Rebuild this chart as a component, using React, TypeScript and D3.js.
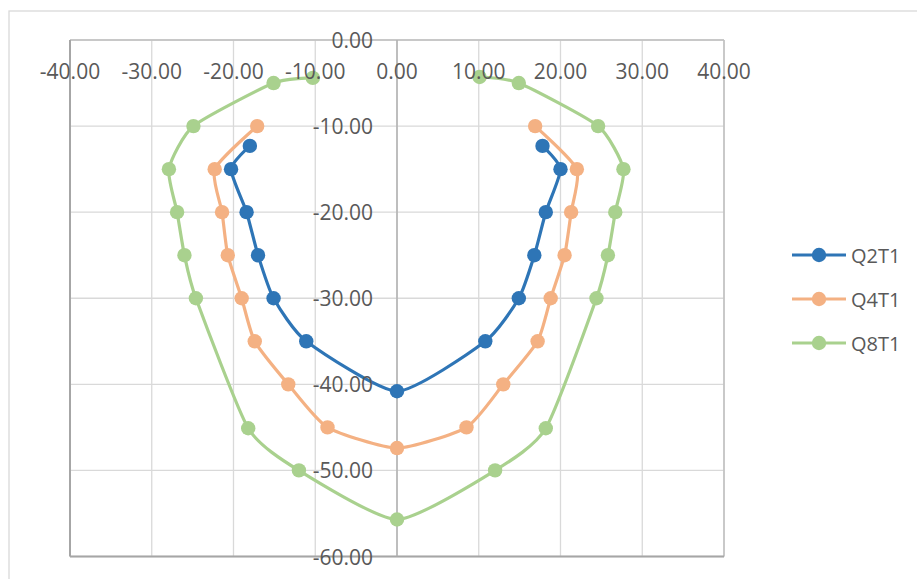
import React from "react";
import * as d3 from "d3";

// Series data: horizontal offset vs. depth (negative downward)
const q2t1X = [-18.0, -20.3, -18.4, -17.0, -15.1, -11.1, 0, 10.8, 14.9, 16.8, 18.2, 20.0, 17.8];
const q2t1Y = [-12.3, -15, -20, -25, -30, -35, -40.8, -35, -30, -25, -20, -15, -12.3];

const q4t1X = [-17.1, -22.3, -21.4, -20.7, -19.0, -17.4, -13.3, -8.5, 0, 8.5, 13.0, 17.2, 18.8, 20.5, 21.3, 22.0, 16.9];
const q4t1Y = [-10, -15, -20, -25, -30, -35, -40, -45, -47.4, -45, -40, -35, -30, -25, -20, -15, -10];

const q8t1X = [-10.3, -15.1, -24.9, -27.9, -26.9, -26.0, -24.6, -18.2, -12.0, 0, 12.0, 18.2, 24.4, 25.8, 26.7, 27.7, 24.6, 14.9, 10.1];
const q8t1Y = [-4.4, -5, -10, -15, -20, -25, -30, -45.1, -50, -55.7, -50, -45.1, -30, -25, -20, -15, -10, -5, -4.3];

const seriesNames = ["Q2T1", "Q4T1", "Q8T1"];
const seriesColors = ["#2e75b6", "#f4b183", "#a9d18e"];

const xTicks = [-40, -30, -20, -10, 0, 10, 20, 30, 40];
const yTicks = [0, -10, -20, -30, -40, -50, -60];

const W = 917;
const H = 579;
const FONT = "'Open Sans', 'Liberation Sans', sans-serif";
const TEXT = "#595959";

// two decimals with a plain hyphen for negatives
const fmt = (v: number) => (v < 0 ? "-" : "") + Math.abs(v).toFixed(2);

export default function App() {
  const x = d3.scaleLinear().domain([-40, 40]).range([70, 724]);
  const y = d3.scaleLinear().domain([0, -60]).range([40, 556.5]);

  const series = [
    { name: seriesNames[0], color: seriesColors[0], xs: q2t1X, ys: q2t1Y },
    { name: seriesNames[1], color: seriesColors[1], xs: q4t1X, ys: q4t1Y },
    { name: seriesNames[2], color: seriesColors[2], xs: q8t1X, ys: q8t1Y },
  ];

  const line = d3
    .line<[number, number]>()
    .x((d) => x(d[0]))
    .y((d) => y(d[1]))
    .curve(d3.curveCardinal.tension(0.4));

  return (
    <svg
      width={W}
      height={H}
      style={{ position: "absolute", left: 0, top: 0, background: "#fff" }}
    >
      {/* chart area frame */}
      <rect x={9} y={11} width={W} height={H} fill="#fff" stroke="#d9d9d9" strokeWidth={1.3} />

      {/* gridlines */}
      {xTicks.map((t) => (
        <line key={"gx" + t} x1={x(t)} x2={x(t)} y1={y(0)} y2={y(-60)} stroke="#d9d9d9" strokeWidth={1.3} />
      ))}
      {yTicks.map((t) => (
        <line key={"gy" + t} x1={x(-40)} x2={x(40)} y1={y(t)} y2={y(t)} stroke="#d9d9d9" strokeWidth={1.3} />
      ))}

      {/* plot frame and axes */}
      <line x1={x(-40)} x2={x(40)} y1={y(0)} y2={y(0)} stroke="#bfbfbf" strokeWidth={1.5} />
      <line x1={x(40)} x2={x(40)} y1={y(0)} y2={y(-60)} stroke="#bfbfbf" strokeWidth={1.5} />
      <line x1={x(-40)} x2={x(-40)} y1={y(0)} y2={y(-60)} stroke="#a6a6a6" strokeWidth={2} />
      <line x1={x(-40)} x2={x(40)} y1={y(-60)} y2={y(-60)} stroke="#a6a6a6" strokeWidth={2} />
      <line x1={x(0)} x2={x(0)} y1={y(0)} y2={y(-60)} stroke="#b0b0b0" strokeWidth={1.5} />

      {/* series */}
      {series.map((s) => {
        const pts: [number, number][] = s.xs.map((v, i) => [v, s.ys[i]]);
        return (
          <g key={s.name}>
            <path d={line(pts) || ""} fill="none" stroke={s.color} strokeWidth={3.2} strokeLinejoin="round" />
            {pts.map((p, i) => (
              <circle key={i} cx={x(p[0])} cy={y(p[1])} r={7.2} fill={s.color} />
            ))}
          </g>
        );
      })}

      {/* x tick labels */}
      {xTicks.map((t) => (
        <text
          key={"tx" + t}
          x={x(t)}
          y={71}
          textAnchor="middle"
          dominantBaseline="central"
          fontFamily={FONT}
          fontSize={21}
          fill={TEXT}
        >
          {fmt(t)}
        </text>
      ))}

      {/* y tick labels */}
      {yTicks.map((t) => (
        <text
          key={"ty" + t}
          x={x(0) - 24}
          y={y(t)}
          textAnchor="end"
          dominantBaseline="central"
          fontFamily={FONT}
          fontSize={21}
          fill={TEXT}
        >
          {fmt(t)}
        </text>
      ))}

      {/* legend */}
      {series.map((s, i) => {
        const ly = 255 + i * 44;
        return (
          <g key={"lg" + s.name}>
            <line x1={792} x2={846} y1={ly} y2={ly} stroke={s.color} strokeWidth={3.2} />
            <circle cx={819} cy={ly} r={7.2} fill={s.color} />
            <text
              x={851}
              y={ly}
              dominantBaseline="central"
              fontFamily={FONT}
              fontSize={20}
              fill={TEXT}
            >
              {s.name}
            </text>
          </g>
        );
      })}
    </svg>
  );
}
